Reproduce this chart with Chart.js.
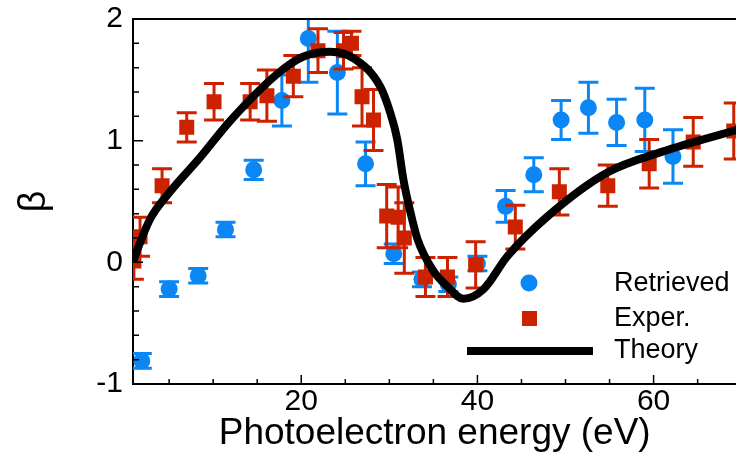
<!DOCTYPE html>
<html>
<head>
<meta charset="utf-8">
<script src="https://cdn.jsdelivr.net/npm/chart.js@4"></script>
<style>
  html, body { margin: 0; padding: 0; background: #fff; overflow: hidden; }
  #wrap { width: 736px; height: 457px; overflow: hidden; }
  canvas { display: block; }
</style>
</head>
<body>
<!-- canvas is 11px wider than the window: Chart.js keeps a marker-size gap on the right,
     the reference plot runs right up to the edge -->
<div id="wrap"><canvas id="chart" width="747" height="457"></canvas></div>
<script>
// Retrieved beta (blue circles)
const retrievedX = [1.9, 5.0, 8.3, 11.4, 14.6, 17.8, 20.8, 24.1, 27.3, 30.5, 33.7, 36.7, 40.0, 43.2, 46.4, 49.5, 52.6, 55.8, 59.0, 62.2];
const retrievedY = [-0.81, -0.22, -0.11, 0.27, 0.76, 1.33, 1.84, 1.56, 0.81, 0.07, -0.14, -0.18, -0.01, 0.46, 0.72, 1.17, 1.27, 1.15, 1.17, 0.87];
const retrievedErr = [0.06, 0.06, 0.06, 0.06, 0.08, 0.21, 0.36, 0.34, 0.18, 0.08, 0.06, 0.06, 0.06, 0.13, 0.14, 0.16, 0.21, 0.19, 0.26, 0.22];

// Experimental beta (red squares)
const experX = [1.0, 1.7, 4.2, 7.0, 10.1, 14.2, 16.1, 19.1, 21.9, 24.8, 25.7, 26.9, 28.2, 29.7, 31.0, 31.7, 34.1, 36.6, 39.8, 44.3, 49.3, 54.8, 59.5, 64.5, 69.1];
const experY = [0.01, 0.21, 0.63, 1.11, 1.32, 1.32, 1.37, 1.53, 1.74, 1.74, 1.80, 1.36, 1.17, 0.38, 0.37, 0.20, -0.12, -0.12, -0.02, 0.29, 0.58, 0.63, 0.81, 0.99, 1.08];
const experErr = [0.15, 0.16, 0.14, 0.12, 0.15, 0.15, 0.21, 0.17, 0.18, 0.15, 0.10, 0.24, 0.25, 0.26, 0.25, 0.29, 0.16, 0.16, 0.19, 0.18, 0.19, 0.17, 0.20, 0.20, 0.23];

// Theory curve (black line)
const theoryX = [0.9, 2.8, 5.1, 8.5, 11.9, 17.3, 20.2, 23.3, 26.1, 29.0, 30.1, 30.9, 31.6, 32.4, 33.2, 34.9, 36.6, 38.4, 40.7, 43.4, 48.0, 54.8, 61.0, 69.5];
const theoryY = [0.01, 0.35, 0.58, 0.86, 1.16, 1.55, 1.69, 1.73, 1.67, 1.44, 1.23, 1.01, 0.68, 0.41, 0.19, -0.06, -0.20, -0.30, -0.22, 0.05, 0.38, 0.74, 0.91, 1.09];

// Axis ticks
const xTickLabels = [20, 40, 60];
const yTickLabels = [-1, 0, 1, 2];

const BLUE = '#0a86f5';
const RED = '#cc2200';
const FONT = "'Liberation Sans', Arial, sans-serif";

function toPoints(xs, ys) {
    return xs.map((x, i) => ({ x: x, y: ys[i] }));
}

// error bars drawn right before each dataset's markers
const errorBars = {
    id: 'errorBars',
    beforeDatasetDraw(chart, args) {
        const ds = chart.data.datasets[args.index];
        if (!ds.errors) return;
        const { ctx, chartArea, scales } = chart;
        ctx.save();
        ctx.beginPath();
        ctx.rect(chartArea.left, chartArea.top, chartArea.right - chartArea.left, chartArea.bottom - chartArea.top);
        ctx.clip();
        ctx.strokeStyle = ds.backgroundColor;
        ctx.lineWidth = 3;
        ds.data.forEach((p, i) => {
            const px = scales.x.getPixelForValue(p.x);
            const top = scales.y.getPixelForValue(p.y + ds.errors[i]);
            const bot = scales.y.getPixelForValue(p.y - ds.errors[i]);
            ctx.beginPath();
            ctx.moveTo(px, top);
            ctx.lineTo(px, bot);
            ctx.moveTo(px - 10, top);
            ctx.lineTo(px + 10, top);
            ctx.moveTo(px - 10, bot);
            ctx.lineTo(px + 10, bot);
            ctx.stroke();
        });
        ctx.restore();
    }
};

// inward ticks, top frame line and the legend box
const frame = {
    id: 'frame',
    afterDraw(chart) {
        const { ctx, chartArea, scales } = chart;
        ctx.save();
        ctx.strokeStyle = '#000';
        ctx.lineWidth = 2;
        ctx.beginPath();
        ctx.moveTo(chartArea.left, chartArea.top);
        ctx.lineTo(chartArea.right, chartArea.top);
        ctx.stroke();

        ctx.lineWidth = 1.5;
        ctx.beginPath();
        for (let v = 5; v < 70; v += 5) {
            const px = scales.x.getPixelForValue(v);
            const len = v % 20 === 0 ? 9 : 5;
            ctx.moveTo(px, chartArea.bottom);
            ctx.lineTo(px, chartArea.bottom - len);
        }
        for (let k = -5; k <= 10; k++) {
            const v = k * 0.2;
            const py = scales.y.getPixelForValue(v);
            const len = k % 5 === 0 ? 10 : 6;
            ctx.moveTo(chartArea.left, py);
            ctx.lineTo(chartArea.left + len, py);
        }
        ctx.stroke();

        // legend
        ctx.fillStyle = BLUE;
        ctx.beginPath();
        ctx.arc(529, 283, 8.5, 0, Math.PI * 2);
        ctx.fill();
        ctx.fillStyle = RED;
        ctx.fillRect(522, 311, 15, 15);
        ctx.strokeStyle = '#000';
        ctx.lineWidth = 8;
        ctx.beginPath();
        ctx.moveTo(467, 351);
        ctx.lineTo(593, 351);
        ctx.stroke();
        ctx.fillStyle = '#000';
        ctx.font = '27px ' + FONT;
        ctx.textBaseline = 'middle';
        ctx.textAlign = 'left';
        ctx.fillText('Retrieved', 614, 284);
        ctx.fillText('Exper.', 614, 319);
        ctx.fillText('Theory', 614, 351);
        ctx.restore();
    }
};

const ctx = document.getElementById('chart').getContext('2d');
const chart = new Chart(ctx, {
    type: 'scatter',
    data: {
        datasets: [
            {
                label: 'Theory',
                type: 'line',
                data: toPoints(theoryX, theoryY),
                borderColor: '#000',
                borderWidth: 8,
                pointRadius: 0,
                fill: false,
                cubicInterpolationMode: 'monotone',
                order: 0
            },
            {
                label: 'Exper.',
                data: toPoints(experX, experY),
                errors: experErr,
                backgroundColor: RED,
                borderWidth: 0,
                pointStyle: 'rect',
                pointRadius: 10.6,
                order: 1
            },
            {
                label: 'Retrieved',
                data: toPoints(retrievedX, retrievedY),
                errors: retrievedErr,
                backgroundColor: BLUE,
                borderWidth: 0,
                pointStyle: 'circle',
                pointRadius: 8.5,
                order: 2
            }
        ]
    },
    options: {
        responsive: false,
        animation: false,
        events: [],
        layout: { padding: { top: 19, right: 0, bottom: 0, left: 0 } },
        plugins: {
            legend: { display: false },
            tooltip: { enabled: false }
        },
        scales: {
            x: {
                type: 'linear',
                min: 0.9,
                max: 69.4,
                grid: { display: false, drawTicks: false },
                border: { display: true, color: '#000', width: 2 },
                afterBuildTicks: s => { s.ticks = xTickLabels.map(v => ({ value: v })); },
                afterFit: s => { s.height = 73; s.paddingLeft = 0; s.paddingRight = 0; },
                ticks: {
                    color: '#000',
                    font: { family: FONT, size: 30 },
                    padding: 0,
                    maxRotation: 0,
                    callback: v => String(v)
                },
                title: {
                    display: true,
                    text: 'Photoelectron energy (eV)',
                    color: '#000',
                    font: { family: FONT, size: 37 },
                    padding: { top: 0, bottom: 1 }
                }
            },
            y: {
                type: 'linear',
                min: -1,
                max: 2,
                grid: { display: false, drawTicks: false },
                border: { display: true, color: '#000', width: 2 },
                afterBuildTicks: s => { s.ticks = yTickLabels.map(v => ({ value: v })); },
                afterFit: s => { s.width = 133; s.paddingTop = 0; s.paddingBottom = 0; },
                ticks: {
                    color: '#000',
                    font: { family: FONT, size: 30 },
                    padding: 10,
                    callback: v => String(v)
                },
                title: {
                    display: true,
                    text: 'β',
                    color: '#000',
                    font: { family: FONT, size: 38 },
                    padding: { top: 12, bottom: 0 }
                }
            }
        }
    },
    plugins: [errorBars, frame]
});
</script>
</body>
</html>
